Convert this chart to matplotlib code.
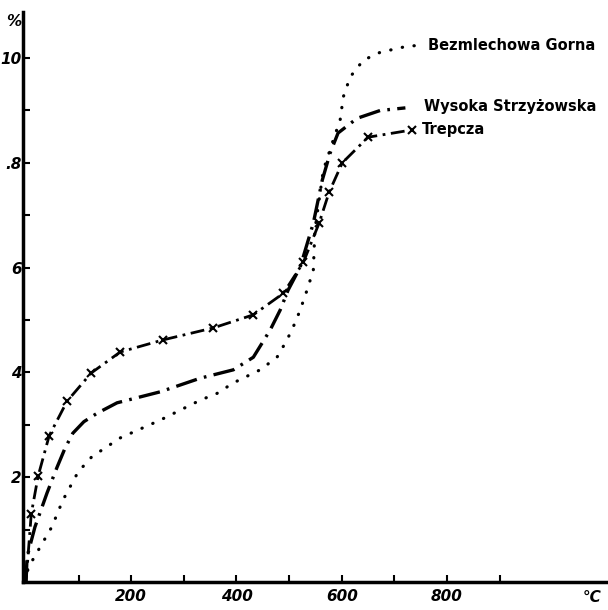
import matplotlib.pyplot as plt

# temperature (deg C) and loss (%)
bez_t = [0, 4, 27, 49, 70, 99, 125, 179, 255, 331, 363, 394, 445, 477, 496, 511,
         521, 534, 546, 549, 565, 584, 597, 603, 616, 641, 673, 717, 749]
bez_v = [0, 0.27, 0.67, 1.05, 1.56, 2.1, 2.39, 2.75, 3.09, 3.47, 3.6, 3.8, 4.05, 4.29,
         4.62, 4.94, 5.19, 5.57, 5.95, 6.72, 7.86, 8.44, 8.82, 9.26, 9.64, 9.96,
         10.11, 10.21, 10.25]

wys_t = [0, 2, 17, 40, 59, 74, 89, 110, 135, 173, 255, 331, 394, 432, 464, 483, 498,
         521, 546, 563, 578, 593, 629, 673, 721]
wys_v = [0, 0.48, 1.05, 1.7, 2.19, 2.55, 2.84, 3.06, 3.22, 3.42, 3.63, 3.89, 4.05,
         4.29, 4.81, 5.19, 5.57, 6.01, 6.85, 7.67, 8.19, 8.57, 8.85, 9.0, 9.05]

tre_t = [0, 10, 23, 44, 78, 124, 179, 260, 356, 432, 489, 527, 557, 576, 601, 650, 734]
tre_v = [0, 1.3, 2.02, 2.79, 3.45, 3.99, 4.39, 4.62, 4.85, 5.10, 5.51, 6.1, 6.85,
         7.44, 8.0, 8.49, 8.63]

names = ['Bezmlechowa Gorna', 'Wysoka Strzyżowska', 'Trepcza']
y_ticks = [2, 4, 6, 8, 10]
y_labels = ['2', '4', '6', '.8', '10']
x_ticks = [200, 400, 600, 800]

fig = plt.figure(figsize=(6.08, 6.10), dpi=100)
ax = fig.add_axes([23 / 608, 28 / 610, 585 / 608, 570 / 610])

ax.plot(bez_t, bez_v, color='black', lw=2.3, linestyle=(0, (0.1, 3.6)),
        dash_capstyle='round')
ax.plot(wys_t, wys_v, color='black', lw=2.4, linestyle=(0, (6.5, 2.2, 0.8, 2.2)))
ax.plot(tre_t, tre_v, color='black', lw=2.0, linestyle=(0, (5, 2, 1, 2)),
        marker='x', markersize=6, markeredgewidth=1.5, markevery=range(1, len(tre_t)))

lab_font = dict(fontsize=10.5, va='center', ha='left', fontweight='bold')
ax.text(bez_t[-1] + 14, bez_v[-1], names[0], **lab_font)
ax.text(wys_t[-1] + 36, wys_v[-1] + 0.02, names[1], **lab_font)
ax.text(tre_t[-1] + 18, tre_v[-1], names[2], **lab_font)

ax.set_xlim(-5.7, 1106)
ax.set_ylim(0, 10.88)

for s in ['top', 'right']:
    ax.spines[s].set_visible(False)
ax.spines['left'].set_linewidth(2.5)
ax.spines['bottom'].set_linewidth(2.5)

tick_font = dict(fontsize=11, fontstyle='italic', fontweight='bold')
ax.set_yticks(y_ticks)
ax.set_yticklabels(y_labels, **tick_font)
ax.set_yticks(range(1, 11, 2), minor=True)
ax.set_xticks(x_ticks)
ax.set_xticklabels([str(t) for t in x_ticks], **tick_font)
ax.set_xticks(range(100, 1100, 200), minor=True)
ax.tick_params(which='both', direction='in', length=5, width=1.5)
ax.tick_params(axis='y', pad=1)
ax.tick_params(axis='x', pad=5)

fig.text(14 / 608, 1 - 22 / 610, '%', ha='center', va='center', **tick_font)
fig.text(592 / 608, 1 - 598 / 610, '°C', ha='center', va='center', **tick_font)

fig.savefig('out.png', dpi=100)
